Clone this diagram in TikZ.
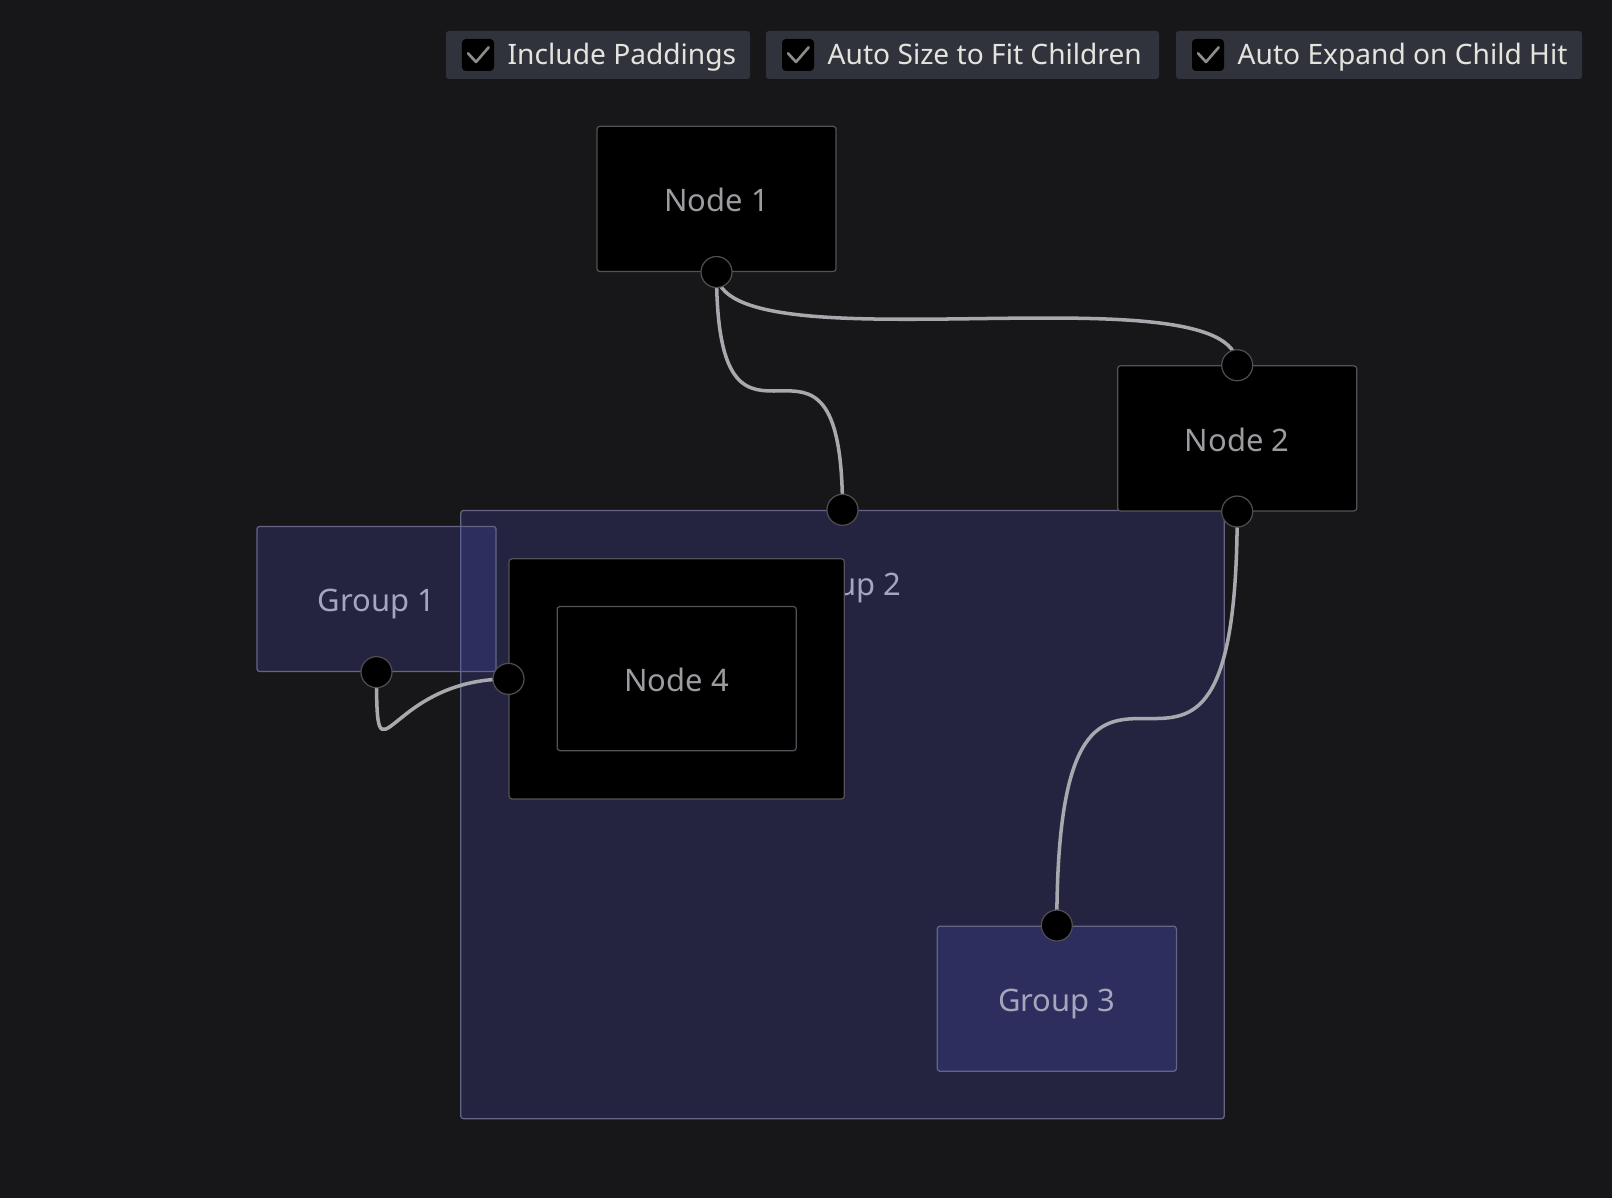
\documentclass[tikz,border=0pt]{standalone}
\usepackage{fontspec}
\setmainfont{Noto Sans}
\usepackage{xcolor}
\definecolor{bgcol}{RGB}{23,23,26}
\definecolor{optfill}{RGB}{49,51,60}
\definecolor{opttext}{RGB}{228,228,222}
\definecolor{tickgray}{RGB}{140,140,140}
\definecolor{nodeline}{RGB}{82,82,88}
\definecolor{nodetext}{RGB}{155,155,160}
\definecolor{grpfill}{RGB}{75,75,182}
\definecolor{grpline}{RGB}{100,100,135}
\definecolor{grptext}{RGB}{165,165,188}
\definecolor{portline}{RGB}{78,78,82}
\definecolor{linkgray}{RGB}{168,168,175}
\newcommand{\optfont}{\fontsize{8.0pt}{9pt}\selectfont}
\newcommand{\boxfont}{\fontsize{8.8pt}{10pt}\selectfont}

\tikzset{
  optbox/.style={fill=optfill, rounded corners=0.8pt},
  tickbox/.style={fill=black, rounded corners=1.1pt, minimum size=0.32cm, inner sep=0pt},
  ticktext/.style={text=opttext, font=\optfont, inner sep=0pt},
  nodebox/.style={draw=nodeline, line width=0.35pt, fill=black, rounded corners=0.8pt,
    minimum width=2.39cm, minimum height=1.45cm, inner sep=0pt,
    text=nodetext, font=\boxfont, text height=0.72em, text depth=0pt},
  groupbox/.style={nodebox, draw=grpline, fill=grpfill, fill opacity=0.25, text opacity=1, text=grptext},
  grouplabel/.style={text=grptext, font=\boxfont, text height=0.72em, text depth=0pt, inner sep=0pt},
  port/.style={circle, fill=black, draw=portline, line width=0.35pt, minimum size=0.31cm, inner sep=0pt},
  link/.style={draw=linkgray, line width=1pt},
}

\begin{document}
\begin{tikzpicture}[x=0.01cm, y=-0.01cm]
  \fill[bgcol] (0,0) rectangle (1612,1198);
  \useasboundingbox (0,0) rectangle (1612,1198);

  % option bar
  \foreach \i/\xl/\xr/\txt in {1/446/750/Include Paddings, 2/766/1159/Auto Size to Fit Children, 3/1176/1582/Auto Expand on Child Hit}{
    \path[optbox] (\xl,31) rectangle (\xr,79);
    \node[tickbox] (tick\i) at (\xl+32,55) {};
    \draw[tickgray, line width=0.75pt, line cap=round, line join=round]
      ([shift={(-10,-1.7)}]tick\i.center) -- ++(8,8.7) -- ++(12.7,-14.7);
    \node[ticktext, anchor=base west] (opt\i) at (\xl+61,65) {\txt};
  }

  % groups
  \node[groupbox, minimum width=7.63cm, minimum height=6.08cm] (group2) at (842.5,814.6) {};
  \node[grouplabel] (g2label) at ([yshift=-0.725cm]group2.north) {Group 2};
  \node[groupbox] (group1) at (376.5,599) {Group 1};
  \node[groupbox] (group3) at (1056.8,998.7) {Group 3};

  % nodes
  \node[nodebox] (node1) at (716.5,198.9) {Node 1};
  \node[nodebox] (node2) at (1237.2,438.4) {Node 2};
  \node[nodebox, minimum width=3.35cm, minimum height=2.40cm] (node4box) at (676.7,678.9) {};
  \node[nodebox, minimum height=1.44cm] (node4) at (676.7,678.6) {Node 4};

  % ports
  \coordinate (n1out) at (node1.south);
  \coordinate (n2in) at (node2.north);
  \coordinate (n2out) at (node2.south);
  \coordinate (g1out) at (group1.south);
  \coordinate (g2in) at (group2.north);
  \coordinate (g3in) at (group3.north);
  \coordinate (n4in) at (node4box.west);

  % links
  \draw[link] (n1out) .. controls +(0,240) and +(0,-240) .. (g2in);
  \draw[link] (n1out) .. controls +(0,100) and +(0,-100) .. (n2in);
  \draw[link] (n2out) .. controls +(0,415) and +(0,-415) .. (g3in);
  \draw[link] (g1out) .. controls +(0,125) and +(-125,0) .. (n4in);

  \foreach \p in {n1out,n2in,n2out,g1out,g2in,g3in,n4in}
    \node[port] (port-\p) at (\p) {};
\end{tikzpicture}
\end{document}
